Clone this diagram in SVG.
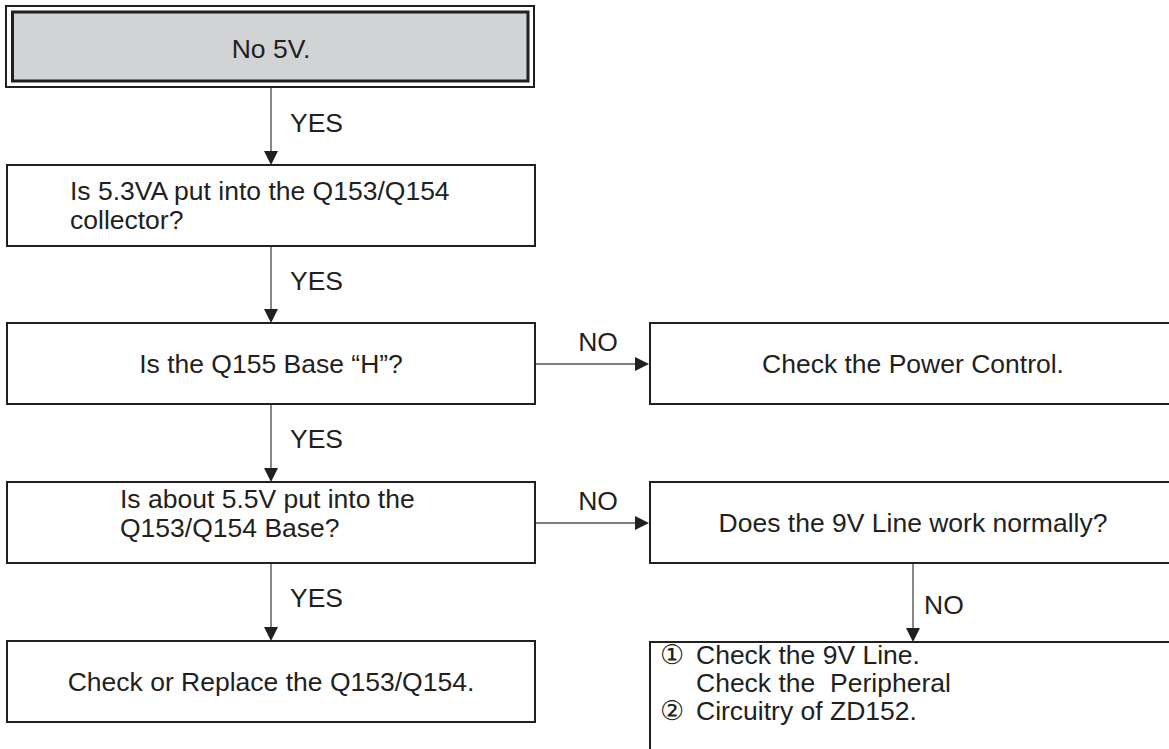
<svg xmlns="http://www.w3.org/2000/svg" width="1169" height="749" viewBox="0 0 1169 749">
<style>
  text { font-family: "Liberation Sans", Arial, sans-serif; font-size: 26.5px; fill: #231f20; }
  .box { fill: #ffffff; stroke: #231f20; stroke-width: 2; }
  .c { text-anchor: middle; }
  .conn { stroke: #555555; stroke-width: 1.4; fill: none; }
  .head { fill: #231f20; }
</style>
<rect width="1169" height="749" fill="#ffffff"/>

<g id="connectors">
  <line class="conn" x1="271" y1="88" x2="271" y2="151"/>
  <polygon class="head" points="264,151 278,151 271,165"/>
  <text x="290" y="132">YES</text>

  <line class="conn" x1="271" y1="246" x2="271" y2="309"/>
  <polygon class="head" points="264,309 278,309 271,323"/>
  <text x="290" y="290">YES</text>

  <line class="conn" x1="271" y1="404" x2="271" y2="468"/>
  <polygon class="head" points="264,468 278,468 271,482"/>
  <text x="290" y="448">YES</text>

  <line class="conn" x1="271" y1="563" x2="271" y2="627"/>
  <polygon class="head" points="264,627 278,627 271,641"/>
  <text x="290" y="607">YES</text>

  <line class="conn" x1="535" y1="364" x2="635" y2="364"/>
  <polygon class="head" points="635,357 635,371 649,364"/>
  <text x="598" y="351" class="c">NO</text>

  <line class="conn" x1="535" y1="523" x2="635" y2="523"/>
  <polygon class="head" points="635,516 635,530 649,523"/>
  <text x="598" y="510" class="c">NO</text>

  <line class="conn" x1="913" y1="563" x2="913" y2="628"/>
  <polygon class="head" points="906,628 920,628 913,642"/>
  <text x="924" y="614">NO</text>
</g>

<g id="start">
  <rect x="6" y="6" width="528" height="81" fill="#ffffff" stroke="#231f20" stroke-width="2"/>
  <rect x="12.5" y="12" width="515.5" height="69" fill="#d1d3d4" stroke="#231f20" stroke-width="3"/>
  <text x="271" y="58" class="c">No 5V.</text>
</g>

<g id="q1">
  <rect class="box" x="7" y="165" width="528" height="81"/>
  <text x="70" y="200">Is 5.3VA put into the Q153/Q154</text>
  <text x="70" y="229">collector?</text>
</g>

<g id="q2">
  <rect class="box" x="7" y="323" width="528" height="81"/>
  <text x="271" y="373" class="c">Is the Q155 Base “H”?</text>
</g>

<g id="powerctl">
  <rect class="box" x="650" y="323" width="530" height="81"/>
  <text x="913" y="373" class="c">Check the Power Control.</text>
</g>

<g id="q3">
  <rect class="box" x="7" y="482" width="528" height="81"/>
  <text x="120" y="508">Is about 5.5V put into the</text>
  <text x="120" y="537">Q153/Q154 Base?</text>
</g>

<g id="q4">
  <rect class="box" x="650" y="482" width="530" height="81"/>
  <text x="913" y="532" class="c">Does the 9V Line work normally?</text>
</g>

<g id="replace">
  <rect class="box" x="7" y="641" width="528" height="81"/>
  <text x="271" y="691" class="c">Check or Replace the Q153/Q154.</text>
</g>

<g id="check9v">
  <rect class="box" x="650" y="642" width="530" height="120"/>
  <text x="660" y="664">①<tspan x="696">Check the 9V Line.</tspan></text>
  <text x="696" y="692" xml:space="preserve">Check the  Peripheral</text>
  <text x="660" y="720">②<tspan x="696">Circuitry of ZD152.</tspan></text>
</g>
</svg>
